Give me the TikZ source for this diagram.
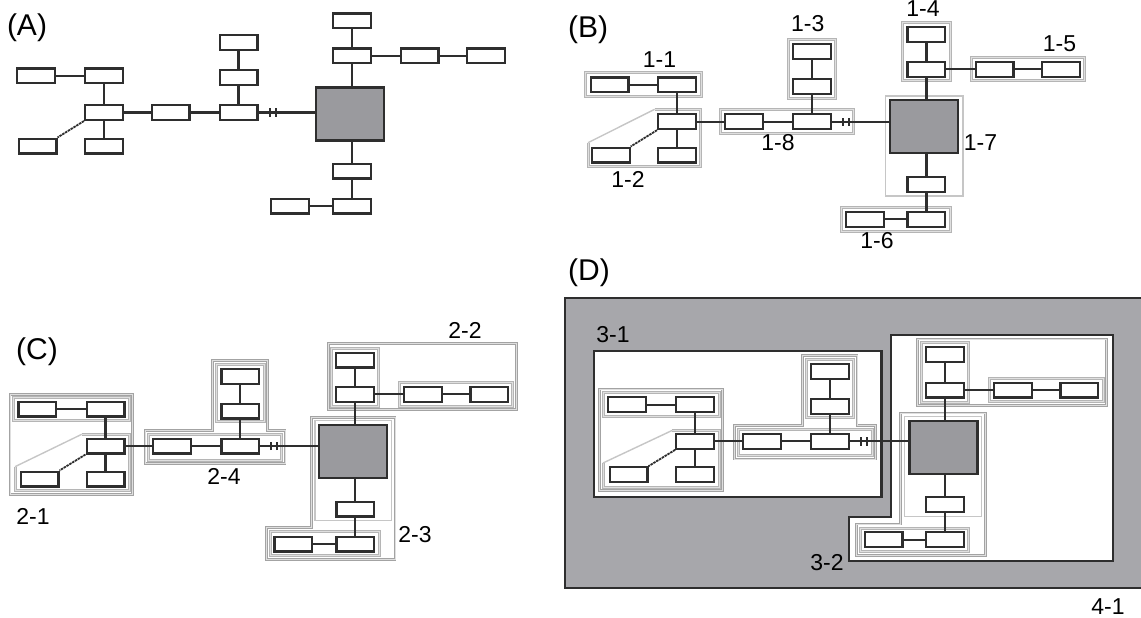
\documentclass[tikz,border=0pt]{standalone}
\usepackage{fontspec}
\setmainfont{Liberation Sans}
\usetikzlibrary{decorations.markings}

\definecolor{ink}{HTML}{2E2E2E}
\definecolor{corefill}{HTML}{9A9A9E}
\definecolor{bgfill}{HTML}{A7A7AB}

\tikzset{
  box/.style={draw=ink, fill=white, line width=2.2pt, minimum width=37.8pt, minimum height=14.8pt, inner sep=0pt},
  core/.style={draw=ink, fill=corefill, line width=2.2pt, minimum width=68pt, minimum height=53pt, inner sep=0pt},
  wire/.style={draw=ink, line width=2.2pt},
  notch/.style={draw=ink, line width=2pt},
  dashlink/.style={draw=ink, line width=1.8pt, dash pattern=on 2.5pt off 0.8pt},
  tickwire/.style={wire, postaction={decorate, decoration={markings,
      mark=at position 11pt with {\draw[notch] (0pt,-4.2pt) -- (0pt,4.2pt);},
      mark=at position 17pt with {\draw[notch] (0pt,-4.2pt) -- (0pt,4.2pt);}}}},
  halo/.style={draw=gray!58, double=gray!25, double distance=1pt, line width=1pt},
  thinhalo/.style={draw=gray!45, line width=1.4pt},
  grp/.style={draw=gray!72, double=gray!25, double distance=0.8pt, line width=1pt},
  zone/.style={draw=ink, fill=white, line width=2.2pt},
  lbl/.style={font=\fontsize{23}{27}\selectfont, inner sep=0pt},
  panel/.style={font=\fontsize{30}{34}\selectfont, inner sep=0pt},
}

\begin{document}
\begin{tikzpicture}[x=1pt, y=-1pt]
\useasboundingbox (0,0) rectangle (1141,618);
\clip (0,0) rectangle (1141,618);

% (D) background zones
\draw[ink, fill=bgfill, line width=2.2pt] (565,298.3) rectangle (1146,588.3);
\draw[zone] (593.9,351.3) rectangle (881.4,496.7);
\draw[zone] (890.7,335) -- (1113,335) -- (1113,561.3) -- (848.8,561.3) -- (848.8,516.7) -- (890.7,516.7) -- cycle;

% second level groups
\draw[grp] (10,394.3) rectangle (132.7,494.3);
\draw[grp] (145,430.7) -- (212.7,430.7) -- (212.7,360.7) -- (267.3,360.7) -- (267.3,430.7) -- (285,430.7) -- (285,463.3) -- (145,463.3) -- cycle;
\draw[grp] (328.3,343.3) rectangle (516.7,409.3);
\draw[grp] (311.7,417.3) -- (395,417.3) -- (395,559.3) -- (266.7,559.3) -- (266.7,527.7) -- (311.7,527.7) -- cycle;
\draw[grp] (599.5,389) rectangle (722.6,490.7);
\draw[grp] (734.5,425.7) -- (802.4,425.7) -- (802.4,355.7) -- (857,355.7) -- (857,425.7) -- (875.5,425.7) -- (875.5,459) -- (734.5,459) -- cycle;
\draw[grp] (917.4,339) rectangle (1106.6,405.7);
\draw[grp] (900.7,413) -- (985.3,413) -- (985.3,555.7) -- (856.2,555.7) -- (856.2,524) -- (900.7,524) -- cycle;

% first level halos (B)
\draw[halo] (585.7,72.7) rectangle (701,96.7);
\draw[halo] (654.6,109.3) -- (700.4,109.3) -- (700.4,166.7) -- (588,166.7) -- (588,142.7);
\draw[thinhalo] (588,142.7) -- (654.6,109.3);
\draw[halo] (788.6,39.3) rectangle (835,98.3);
\draw[halo] (720,109.3) rectangle (853.6,133.3);
\draw[halo] (902.9,22.7) rectangle (950,81);
\draw[halo] (971.4,57.7) rectangle (1084,81);
\draw[thinhalo] (885.7,96) rectangle (962.9,196);
\draw[halo] (841,207.7) rectangle (950,231);
% (C)
\draw[halo] (13.3,397.3) rectangle (129.3,420);
\draw[halo] (81.7,434.3) -- (129.3,434.3) -- (129.3,490.7) -- (15,490.7) -- (15,466.7);
\draw[thinhalo] (15,466.7) -- (81.7,434.3);
\draw[halo] (216,364) rectangle (264,421.7);
\draw[halo] (148.3,434) rectangle (281.7,460);
\draw[halo] (331.7,348.3) rectangle (378.3,406);
\draw[halo] (399.3,382.7) rectangle (512.7,406);
\draw[thinhalo] (315,420.7) rectangle (391.7,520.7);
\draw[halo] (270,531.7) rectangle (379,555.7);
% (D)
\draw[halo] (603,392.3) rectangle (719,416.5);
\draw[halo] (672,430.5) -- (719,430.5) -- (719,487) -- (603,487) -- (603,463);
\draw[thinhalo] (603,463) -- (672,430.5);
\draw[halo] (806,359.2) rectangle (853.5,417.5);
\draw[halo] (738,429) rectangle (872,455.7);
\draw[halo] (921.1,342.3) rectangle (968.6,402.3);
\draw[halo] (989,378.3) rectangle (1103,401.7);
\draw[thinhalo] (904.4,416.3) rectangle (981.6,516.7);
\draw[halo] (860,528) rectangle (968.6,551.3);

% (A)
\node[box] (a1) at (36,76) {};
\node[box] (a2) at (104,76) {};
\node[box] (a3) at (104,112.5) {};
\node[box] (a4) at (37.5,146) {};
\node[box] (a5) at (104,146) {};
\node[box] (a6) at (170.5,112.5) {};
\node[box] (a7) at (238.5,112.5) {};
\node[box] (a8) at (238.5,77.5) {};
\node[box] (a9) at (238.5,42.5) {};
\node[core] (a0) at (350,114) {};
\node[box] (a10) at (351.7,56) {};
\node[box] (a11) at (351.7,21) {};
\node[box] (a12) at (419.5,56) {};
\node[box] (a13) at (486,56) {};
\node[box] (a14) at (351.7,171) {};
\node[box] (a15) at (351.7,206) {};
\node[box] (a16) at (290,206) {};

% (B)
\node[box] (b1) at (609.5,85) {};
\node[box] (b2) at (677,85) {};
\node[box] (b3) at (677,121.7) {};
\node[box] (b4) at (610.7,155) {};
\node[box] (b5) at (677,155) {};
\node[box] (b6) at (744,121.7) {};
\node[box] (b7) at (811.7,121.7) {};
\node[box] (b8) at (811.7,86.7) {};
\node[box] (b9) at (811.7,51.7) {};
\node[core] (b0) at (924.3,126.8) {};
\node[box] (b10) at (926.4,69.3) {};
\node[box] (b11) at (926.4,34.3) {};
\node[box] (b12) at (994.6,69.3) {};
\node[box] (b13) at (1060.7,69.3) {};
\node[box] (b14) at (926.4,184.3) {};
\node[box] (b15) at (926.4,219.3) {};
\node[box] (b16) at (864.8,219.3) {};

% (C)
\node[box] (c1) at (37.3,409) {};
\node[box] (c2) at (105.5,409) {};
\node[box] (c3) at (105.5,446) {};
\node[box] (c4) at (39.5,479) {};
\node[box] (c5) at (105.5,479) {};
\node[box] (c6) at (172,446) {};
\node[box] (c7) at (240.3,446) {};
\node[box] (c8) at (240.3,411) {};
\node[box] (c9) at (240.3,376.7) {};
\node[core] (c0) at (353.3,451.7) {};
\node[box] (c10) at (355,394.3) {};
\node[box] (c11) at (355,360) {};
\node[box] (c12) at (422.7,394.3) {};
\node[box] (c13) at (489.3,394.3) {};
\node[box] (c14) at (355.3,509) {};
\node[box] (c15) at (355.3,544) {};
\node[box] (c16) at (293.3,544) {};

% (D)
\node[box] (d1) at (627,404.7) {};
\node[box] (d2) at (695.2,404.7) {};
\node[box] (d3) at (695.2,441.3) {};
\node[box] (d4) at (628.5,474.7) {};
\node[box] (d5) at (695.2,474.7) {};
\node[box] (d6) at (762,441.3) {};
\node[box] (d7) at (830.2,441.3) {};
\node[box] (d8) at (830.2,406.3) {};
\node[box] (d9) at (830.2,371.3) {};
\node[core] (d0) at (943.4,447.5) {};
\node[box] (d10) at (944.9,390) {};
\node[box] (d11) at (944.9,354.7) {};
\node[box] (d12) at (1013,390) {};
\node[box] (d13) at (1079.3,390) {};
\node[box] (d14) at (944.9,504.7) {};
\node[box] (d15) at (944.9,539.7) {};
\node[box] (d16) at (883.5,539.7) {};

\foreach \p in {a,b,c,d}{
  \draw[wire] (\p1) -- (\p2);
  \draw[wire] (\p2) -- (\p3);
  \draw[wire] (\p3) -- (\p5);
  \draw[dashlink] (\p3.south west) -- (\p4.north east);
  \draw[wire] (\p3) -- (\p6);
  \draw[wire] (\p6) -- (\p7);
  \draw[wire] (\p7) -- (\p8);
  \draw[wire] (\p8) -- (\p9);
  \draw[tickwire] (\p7.east) -- (\p7 -| \p0.west);
  \draw[wire] (\p10) -- (\p10 |- \p0.north);
  \draw[wire] (\p10) -- (\p11);
  \draw[wire] (\p10) -- (\p12);
  \draw[wire] (\p12) -- (\p13);
  \draw[wire] (\p14) -- (\p14 |- \p0.south);
  \draw[wire] (\p14) -- (\p15);
  \draw[wire] (\p16) -- (\p15);
}

% labels
\node[panel] (labA) at (27,28) {(A)};
\node[panel] (labB) at (588,30) {(B)};
\node[panel] (labC) at (37,352) {(C)};
\node[panel] (labD) at (589,272.5) {(D)};
\node[lbl] (g11) at (659.5,60) {1-1};
\node[lbl] (g12) at (628,179) {1-2};
\node[lbl] (g13) at (807.7,24) {1-3};
\node[lbl] (g14) at (923,9) {1-4};
\node[lbl] (g15) at (1059.5,44) {1-5};
\node[lbl] (g16) at (877,241) {1-6};
\node[lbl] (g17) at (980.5,143) {1-7};
\node[lbl] (g18) at (778,143) {1-8};
\node[lbl] (g21) at (33,516) {2-1};
\node[lbl] (g22) at (465,330) {2-2};
\node[lbl] (g23) at (415,535) {2-3};
\node[lbl] (g24) at (224,476) {2-4};
\node[lbl] (g31) at (613,335) {3-1};
\node[lbl] (g32) at (827,563) {3-2};
\node[lbl] (g41) at (1108,606.5) {4-1};
\end{tikzpicture}
\end{document}
